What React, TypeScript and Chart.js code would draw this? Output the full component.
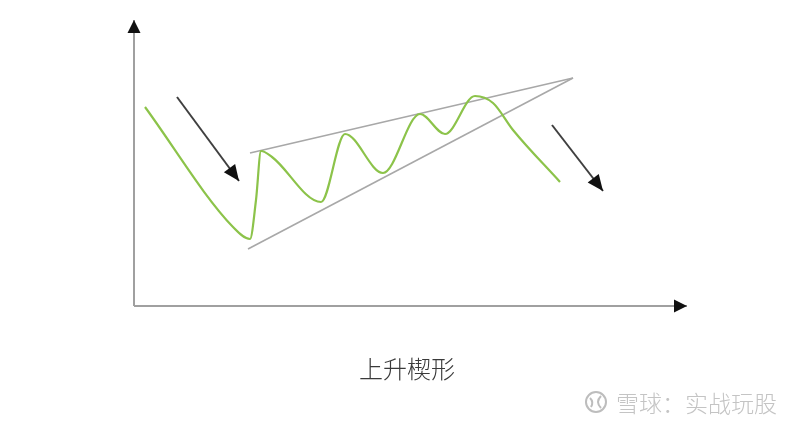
import * as React from 'react';
import {useEffect, useRef} from 'react';
import {Chart, registerables} from 'chart.js';

Chart.register(...registerables);

// diagram units: origin sits where the two axes meet
const axisYX = [0, 0];
const axisYY = [0, 286];
const axisXX = [0, 553];
const axisXY = [0, 0];

const priceX = [11, 99, 116, 122, 127, 138, 187, 211, 249, 286, 311, 341, 359, 379, 426];
const priceY = [199, 79, 67, 106, 155, 149, 104, 172, 133, 192, 172, 210, 203, 176, 124];

const upperX = [116, 439];
const upperY = [153, 228];
const lowerX = [114, 439];
const lowerY = [57, 228];

const trendInX = [43, 105];
const trendInY = [209, 125];
const trendOutX = [418, 469];
const trendOutY = [181, 115];

const caption = '上升楔形';
const watermark = '雪球：实战玩股';

const pts = (xs: number[], ys: number[]) => xs.map((x, i) => ({x, y: ys[i]}));

// draws a filled head on the last segment of datasets that ask for one
const arrowHeads = {
  id: 'arrowHeads',
  afterDatasetsDraw(chart: any) {
    const ctx = chart.ctx;
    chart.data.datasets.forEach((ds: any, i: number) => {
      if (!ds.head) return;
      const els = chart.getDatasetMeta(i).data;
      const tip = els[els.length - 1];
      const prev = els[els.length - 2];
      const a = Math.atan2(tip.y - prev.y, tip.x - prev.x);
      const len = ds.head.len, half = ds.head.half;
      ctx.save();
      ctx.fillStyle = ds.head.color;
      ctx.translate(tip.x, tip.y);
      ctx.rotate(a);
      ctx.beginPath();
      ctx.moveTo(0, 0);
      ctx.lineTo(-len, -half);
      ctx.lineTo(-len, half);
      ctx.closePath();
      ctx.fill();
      ctx.restore();
    });
  }
};

export default function App() {
  const canvasRef = useRef<HTMLCanvasElement | null>(null);

  useEffect(() => {
    if (!canvasRef.current) return;
    const line = (data: any[], color: string, width: number, extra: any = {}) => ({
      data,
      borderColor: color,
      borderWidth: width,
      pointRadius: 0,
      fill: false,
      tension: 0,
      ...extra
    });
    const chart = new Chart(canvasRef.current, {
      type: 'line',
      data: {
        datasets: [
          line(pts(priceX, priceY), '#8cc34a', 2.2, {cubicInterpolationMode: 'monotone'}),
          line(pts(upperX, upperY), '#a8a8a8', 1.6),
          line(pts(lowerX, lowerY), '#a8a8a8', 1.6),
          line(pts(trendInX, trendInY), '#404040', 2, {head: {len: 16, half: 7, color: '#111'}}),
          line(pts(trendOutX, trendOutY), '#404040', 2, {head: {len: 16, half: 7, color: '#111'}}),
          line(pts(axisYX, axisYY), '#a0a0a0', 2, {head: {len: 13, half: 6.5, color: '#111'}}),
          line(pts(axisXX, axisXY), '#a0a0a0', 2, {head: {len: 13, half: 6.5, color: '#111'}})
        ] as any
      },
      options: {
        animation: false,
        responsive: true,
        maintainAspectRatio: false,
        layout: {padding: 0},
        plugins: {legend: {display: false}, tooltip: {enabled: false}},
        events: [],
        scales: {
          x: {type: 'linear', min: -134, max: 666, display: false},
          y: {type: 'linear', min: -122, max: 306, display: false}
        }
      },
      plugins: [arrowHeads]
    });
    return () => chart.destroy();
  }, []);

  return (
    <div style={{position: 'fixed', left: 0, top: 0, width: 800, height: 428, background: '#fff',
      fontFamily: '"Noto Sans CJK SC", sans-serif'}}>
      <div style={{position: 'absolute', inset: 0}}>
        <canvas ref={canvasRef}></canvas>
      </div>
      <div style={{position: 'absolute', left: 359, top: 356, fontSize: 24, lineHeight: '24px',
        fontWeight: 300, color: '#3a3a3a'}}>
        {caption}
      </div>
      <div style={{position: 'absolute', left: 584, top: 390, display: 'flex', alignItems: 'center', gap: 8}}>
        <svg width="24" height="24" viewBox="0 0 24 24">
          <circle cx="12" cy="12" r="10" fill="none" stroke="#bdbdbd" strokeWidth="2" />
          <path d="M6 8 Q10 12 7 17" fill="none" stroke="#bdbdbd" strokeWidth="2" />
          <path d="M17 6 Q11 12 17 18" fill="none" stroke="#bdbdbd" strokeWidth="2" />
        </svg>
        <span style={{fontSize: 23, lineHeight: '24px', fontWeight: 300, color: '#c4c4c4'}}>{watermark}</span>
      </div>
    </div>
  );
}
